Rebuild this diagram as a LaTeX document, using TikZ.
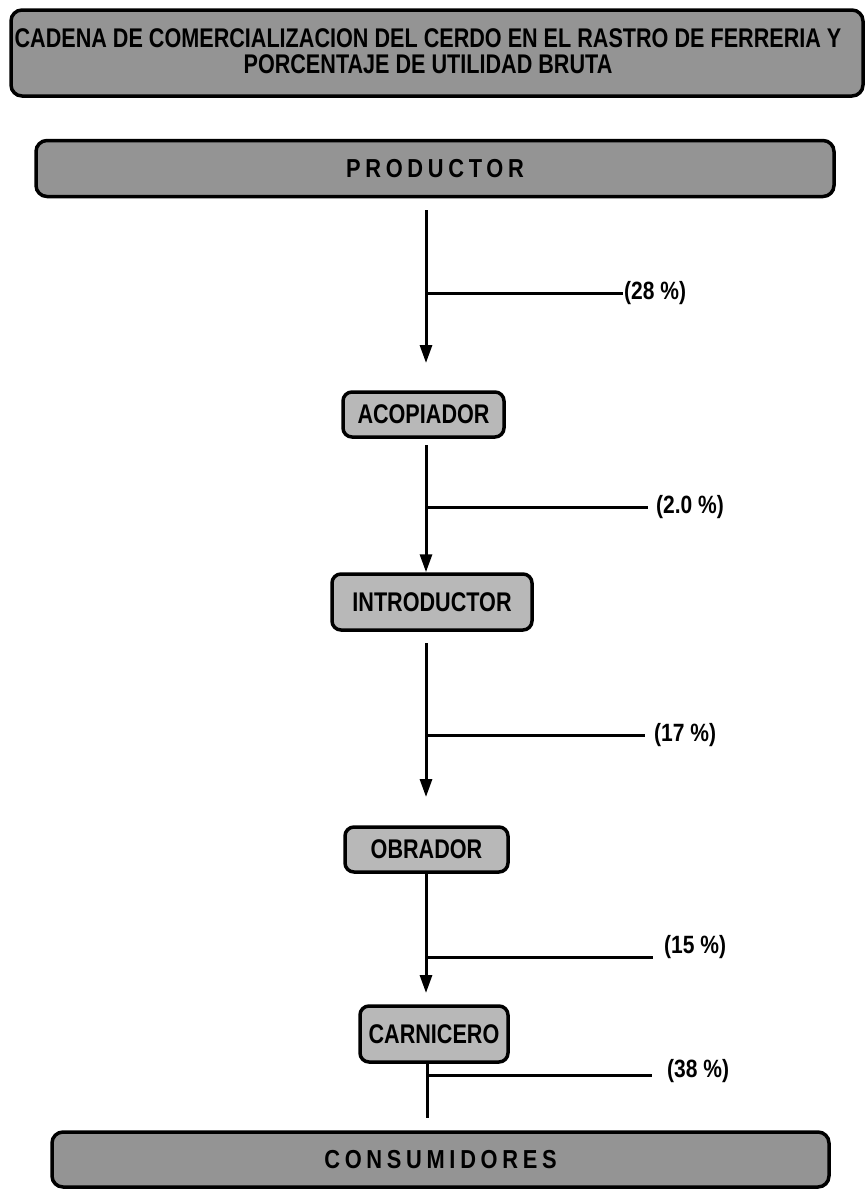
\documentclass[tikz,border=0pt]{standalone}
\usepackage{fontspec}
\newfontfamily\nar[FakeStretch=0.80]{Liberation Sans}
\newfontfamily\narb[FakeStretch=0.84]{Liberation Sans}
\newfontfamily\narsp[FakeStretch=0.84,LetterSpace=18]{Liberation Sans}
\usetikzlibrary{arrows.meta}
\begin{document}
\begin{tikzpicture}[x=1pt,y=-1pt,
  bigbox/.style={draw=black, line width=3.5pt, rounded corners=11pt, fill=black!42, inner sep=0pt},
  smallbox/.style={draw=black, line width=3.5pt, rounded corners=9pt, fill=black!28, inner sep=0pt,
     font=\nar\bfseries\fontsize{27}{27}\selectfont},
  flow/.style={line width=3pt},
  arr/.style={line width=3pt, -{Triangle[length=18pt,width=12pt]}},
  pct/.style={anchor=west, inner sep=1pt, font=\narb\bfseries\fontsize{25}{25}\selectfont}]
\useasboundingbox (0,0) rectangle (866,1189);
% title
\node[bigbox, minimum width=852pt, minimum height=86pt] (title) at (437,53) {};
\node[align=center, inner sep=0pt, font=\nar\bfseries\fontsize{27}{26.5}\selectfont] (titletext) at (428,51)
  {CADENA DE COMERCIALIZACION DEL CERDO EN EL RASTRO DE FERRERIA Y\\PORCENTAJE DE UTILIDAD BRUTA};
% boxes
\node[bigbox, minimum width=798pt, minimum height=56pt, font=\narsp\bfseries\fontsize{26}{26}\selectfont] (prod) at (435,168.5) {PRODUCTOR};
\node[smallbox, minimum width=161pt, minimum height=45pt] (acop) at (423.5,414.5) {ACOPIADOR};
\node[smallbox, minimum width=200pt, minimum height=56pt] (intro) at (432,602) {INTRODUCTOR};
\node[smallbox, minimum width=163pt, minimum height=45pt] (obra) at (426.5,849.5) {OBRADOR};
\node[smallbox, minimum width=148pt, minimum height=56pt] (carn) at (434,1034) {CARNICERO};
\node[bigbox, minimum width=777pt, minimum height=55pt, font=\narsp\bfseries\fontsize{26}{26}\selectfont] (cons) at (440.5,1159.5) {CONSUMIDORES};
% labels
\node[pct] (l1) at (623,293) {(28 \%)};
\node[pct] (l2) at (655,507) {(2.0 \%)};
\node[pct] (l3) at (653,735) {(17 \%)};
\node[pct] (l4) at (663,947) {(15 \%)};
\node[pct] (l5) at (666,1071) {(38 \%)};
% arrows
\coordinate (s1) at (426,210);
\coordinate (e1) at (426,363);
\draw[arr] (s1) -- (e1);
\coordinate (s2) at (426,445);
\draw[arr] (s2) -- (s2 |- intro.north);
\coordinate (s3) at (426,643);
\coordinate (e3) at (426,797);
\draw[arr] (s3) -- (e3);
\coordinate (s4) at (426,872);
\coordinate (e4) at (426,993);
\draw[arr] (s4) -- (e4);
\coordinate (s5) at (427,1063);
\coordinate (e5) at (427,1118);
\draw[flow] (s5) -- (e5);
% branches
\coordinate (b1) at (426,293);
\coordinate (b2) at (426,507);
\coordinate (b3) at (426,735);
\coordinate (b4) at (426,957);
\coordinate (b5) at (427,1075);
\draw[flow] (b1) -- (b1 -| l1.west);
\draw[flow] (b2) -- (648,507);
\draw[flow] (b3) -- (645,735);
\draw[flow] (b4) -- (653,957);
\draw[flow] (b5) -- (652,1075);
\end{tikzpicture}
\end{document}
